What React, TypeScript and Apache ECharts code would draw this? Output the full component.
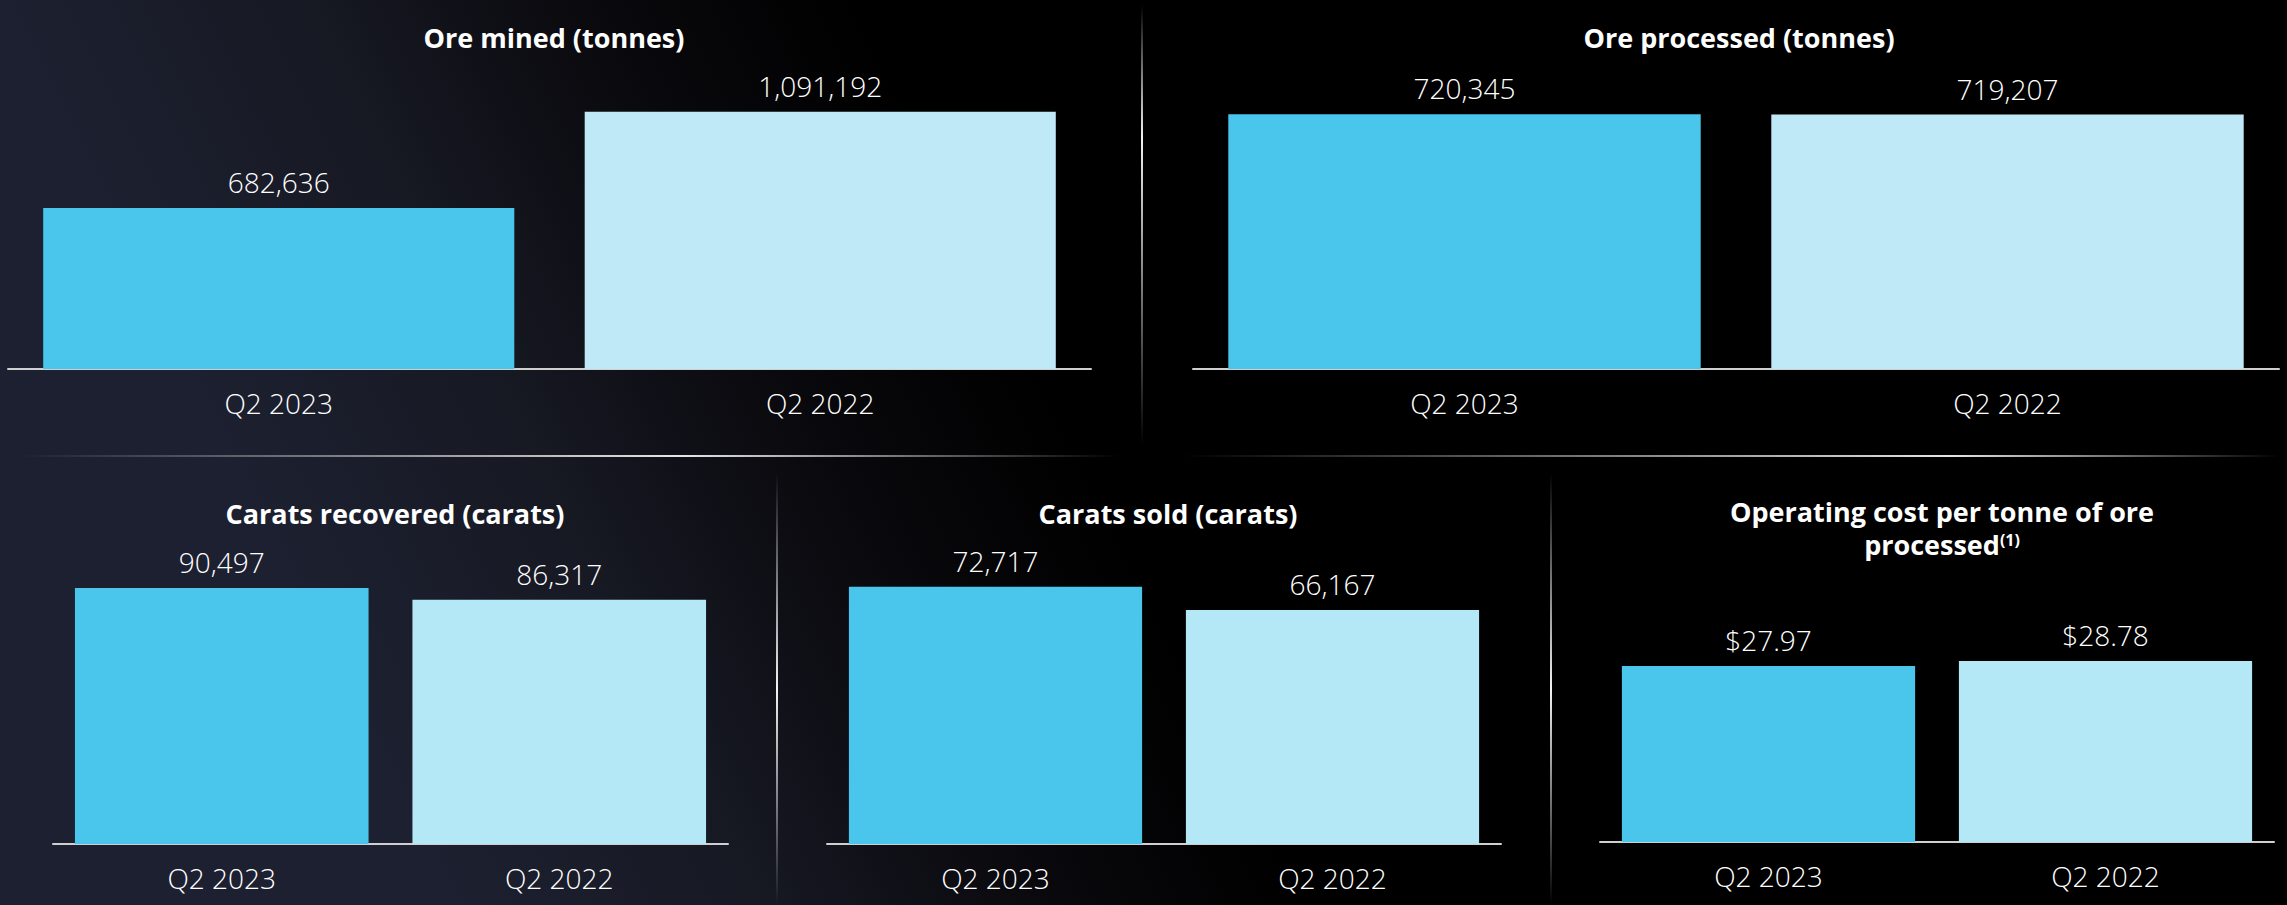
import React, { useEffect, useRef } from "react";
import * as echarts from "echarts";

const categories = ["Q2 2023", "Q2 2022"];
const oreMined = [682636, 1091192];
const oreProcessed = [720345, 719207];
const caratsRecovered = [90497, 86317];
const caratsSold = [72717, 66167];
const operatingCost = [27.97, 28.78];

const titleOreMined = "Ore mined (tonnes)";
const titleOreProcessed = "Ore processed (tonnes)";
const titleCaratsRecovered = "Carats recovered (carats)";
const titleCaratsSold = "Carats sold (carats)";
const titleCostLine1 = "Operating cost per tonne of ore";
const titleCostLine2 = "processed";
const titleCostNote = "(1)";

const FONT = "'Open Sans', 'Noto Sans', sans-serif";
const BLUE = "#4AC6EC";
const LIGHT_TOP = "#C0E9F7";
const LIGHT_BOTTOM = "#B4E8F6";

const fmtInt = (v: number) => v.toLocaleString("en-US");
const fmtCost = (v: number) => "$" + v.toFixed(2);

export default function App() {
  const ref = useRef<HTMLDivElement>(null);

  useEffect(() => {
    document.body.style.margin = "0";
    document.body.style.background = "#000";
    if (!ref.current) return;
    const chart = echarts.init(ref.current, undefined, { renderer: "svg" });

    const panels = [
      { data: oreMined, max: 1200000, grid: { left: 8, top: 86, width: 1083, height: 283 }, light: LIGHT_TOP, fmt: fmtInt },
      { data: oreProcessed, max: 800000, grid: { left: 1193, top: 86, width: 1086, height: 283 }, light: LIGHT_TOP, fmt: fmtInt },
      { data: caratsRecovered, max: 100000, grid: { left: 53, top: 561, width: 675, height: 283 }, light: LIGHT_BOTTOM, fmt: fmtInt },
      { data: caratsSold, max: 80000, grid: { left: 827, top: 561, width: 674, height: 283 }, light: LIGHT_BOTTOM, fmt: fmtInt },
      { data: operatingCost, max: 45, grid: { left: 1600, top: 559, width: 674, height: 283 }, light: LIGHT_BOTTOM, fmt: fmtCost },
    ];

    const titleStyle = {
      color: "#ffffff",
      fontFamily: FONT,
      fontWeight: 700,
      fontSize: 27,
      lineHeight: 33,
    };

    const vLine = (x: number, y1: number, y2: number, peak: number) => ({
      type: "line",
      z: -50,
      shape: { x1: x, y1, x2: x, y2 },
      style: {
        lineWidth: 2,
        stroke: {
          type: "linear",
          x: x, y: y1, x2: x, y2: y2, global: true,
          colorStops: [
            { offset: 0, color: "rgba(255,255,255,0)" },
            { offset: peak, color: "rgba(255,255,255,0.95)" },
            { offset: 1, color: "rgba(255,255,255,0)" },
          ],
        },
      },
    });
    const hLine = (x1: number, x2: number, y: number, peak: number) => ({
      type: "line",
      z: -50,
      shape: { x1, y1: y, x2, y2: y },
      style: {
        lineWidth: 2,
        stroke: {
          type: "linear",
          x: x1, y: y, x2: x2, y2: y, global: true,
          colorStops: [
            { offset: 0, color: "rgba(255,255,255,0)" },
            { offset: peak, color: "rgba(255,255,255,0.9)" },
            { offset: 1, color: "rgba(255,255,255,0)" },
          ],
        },
      },
    });

    const option: any = {
      animation: false,
      backgroundColor: "#000",
      graphic: [
        {
          type: "rect",
          z: -100,
          shape: { x: 0, y: 0, width: 2287, height: 905 },
          style: {
            fill: {
              type: "linear",
              x: 0, y: 0, x2: 680, y2: -340, global: true,
              colorStops: [
                { offset: 0, color: "#1d2030" },
                { offset: 0.38, color: "#161822" },
                { offset: 0.65, color: "#0b0b10" },
                { offset: 1, color: "#000000" },
              ],
            },
          },
        },
        vLine(1142, 5, 445, 0.3),
        hLine(20, 1120, 456, 0.6),
        hLine(1183, 2280, 456, 0.7),
        vLine(777, 473, 905, 0.5),
        vLine(1551, 473, 905, 0.5),
      ],
      title: [
        { text: titleOreMined, left: 549, top: 16, textAlign: "center", textStyle: titleStyle },
        { text: titleOreProcessed, left: 1734, top: 16, textAlign: "center", textStyle: titleStyle },
        { text: titleCaratsRecovered, left: 390, top: 492, textAlign: "center", textStyle: titleStyle },
        { text: titleCaratsSold, left: 1163, top: 492, textAlign: "center", textStyle: titleStyle },
        {
          text: `{b|${titleCostLine1}}\n{b|${titleCostLine2}}{sup|${titleCostNote}}`,
          left: 1937,
          top: 490,
          textAlign: "center",
          textStyle: {
            ...titleStyle,
            rich: {
              b: { ...titleStyle },
              sup: {
                color: "#ffffff",
                fontFamily: FONT,
                fontWeight: 700,
                fontSize: 16,
                lineHeight: 16,
                padding: [0, 0, 10, 0],
                verticalAlign: "middle",
              },
            },
          },
        },
      ],
      grid: panels.map((p) => ({ ...p.grid, containLabel: false })),
      xAxis: panels.map((p, i) => ({
        type: "category",
        gridIndex: i,
        data: categories,
        axisLine: { show: true, lineStyle: { color: "#cfcfcf", width: 2 } },
        axisTick: { show: false },
        axisLabel: { color: "#ffffff", fontFamily: FONT, fontWeight: 300, fontSize: 28, margin: 20 },
      })),
      yAxis: panels.map((p, i) => ({
        type: "value",
        gridIndex: i,
        min: 0,
        max: p.max,
        show: false,
        splitLine: { show: false },
      })),
      series: panels.map((p, i) => ({
        type: "bar",
        xAxisIndex: i,
        yAxisIndex: i,
        data: p.data,
        barCategoryGap: "13%",
        itemStyle: {
          color: (params: any) => (params.dataIndex === 0 ? BLUE : p.light),
        },
        label: {
          show: true,
          position: "top",
          distance: 12,
          color: "#ffffff",
          fontFamily: FONT,
          fontWeight: 300,
          fontSize: 28,
          formatter: (params: any) => p.fmt(params.value),
        },
      })),
    };

    chart.setOption(option);
    return () => chart.dispose();
  }, []);

  return <div ref={ref} style={{ width: 2287, height: 905 }} />;
}
